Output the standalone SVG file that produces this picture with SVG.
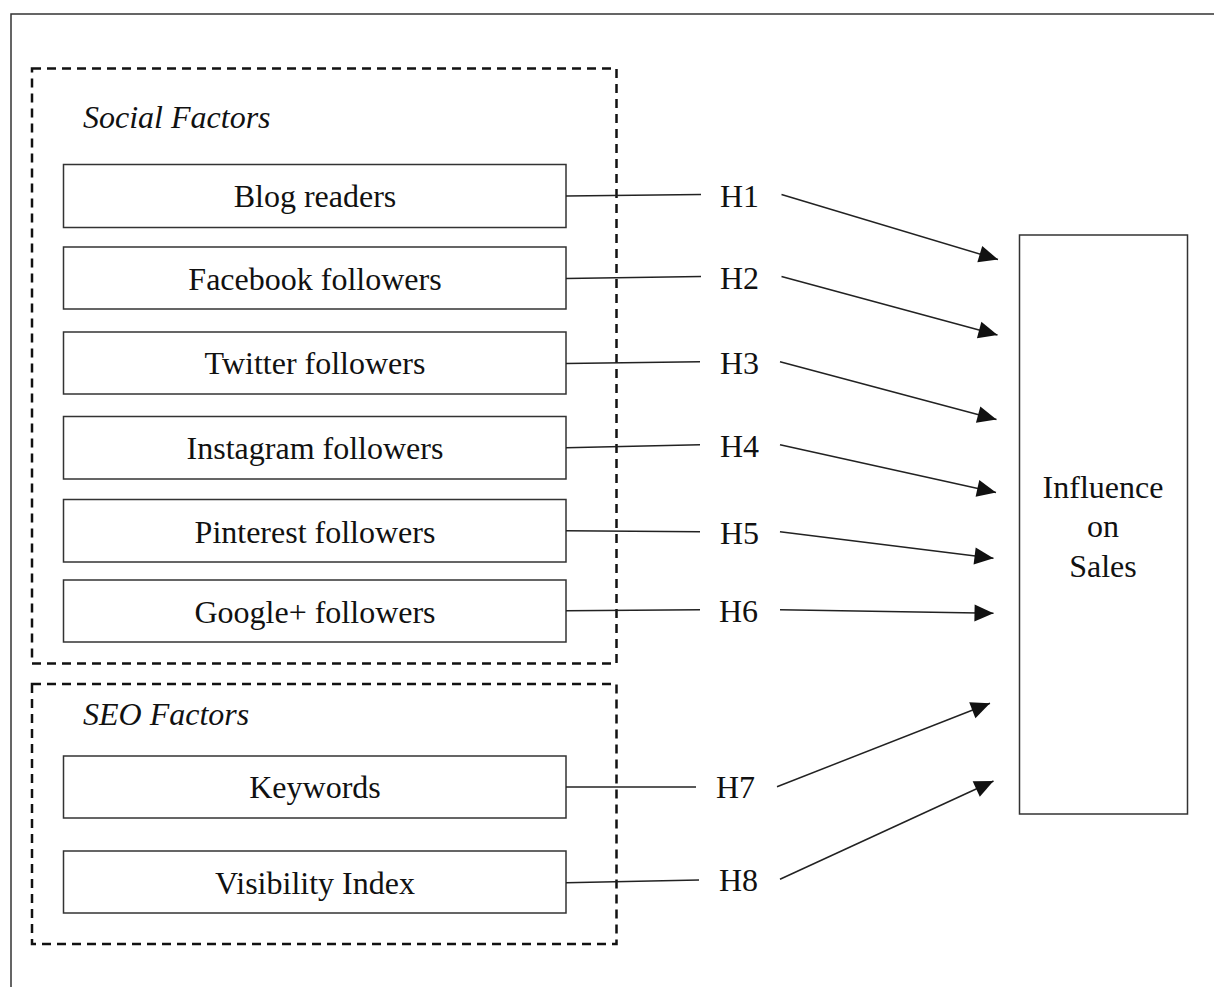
<svg xmlns="http://www.w3.org/2000/svg" width="1214" height="987" viewBox="0 0 1214 987">
<style>
.frame{fill:none;stroke:#333;stroke-width:1.5}
.group{fill:none;stroke:#111;stroke-width:2.5;stroke-dasharray:9 6}
.box{fill:#fff;stroke:#333;stroke-width:1.5}
.t{font-family:"Liberation Serif","Times New Roman",serif;font-size:32px;fill:#111}
.c{text-anchor:middle}
.i{font-style:italic}
.ln{fill:none;stroke:#222;stroke-width:1.5}
.ar{fill:none;stroke:#222;stroke-width:1.5;marker-end:url(#ah)}
</style>
<defs>
<marker id="ah" markerUnits="userSpaceOnUse" markerWidth="20" markerHeight="18" refX="19" refY="8.5" orient="auto" overflow="visible">
<path d="M0,0 L19,8.5 L0,17 z" fill="#111"/>
</marker>
</defs>
<rect width="1214" height="987" fill="#fff"/>
<g id="frame">
<path class="frame" d="M11,987 L11,14 L1214,14"/>
</g>
<g id="social-factors">
<rect class="group" x="32" y="68.5" width="584.5" height="595"/>
<text class="t i" x="83" y="128">Social Factors</text>
</g>
<g id="seo-factors">
<rect class="group" x="32" y="684" width="584.5" height="260"/>
<text class="t i" x="83" y="725">SEO Factors</text>
</g>
<g id="blog-readers"><rect class="box" x="63.5" y="164.5" width="502.5" height="63"/><text class="t c" x="315" y="207">Blog readers</text></g>
<g id="facebook-followers"><rect class="box" x="63.5" y="247" width="502.5" height="62"/><text class="t c" x="315" y="290">Facebook followers</text></g>
<g id="twitter-followers"><rect class="box" x="63.5" y="332" width="502.5" height="62"/><text class="t c" x="315" y="374">Twitter followers</text></g>
<g id="instagram-followers"><rect class="box" x="63.5" y="416.5" width="502.5" height="62.5"/><text class="t c" x="315" y="459">Instagram followers</text></g>
<g id="pinterest-followers"><rect class="box" x="63.5" y="499.5" width="502.5" height="62.5"/><text class="t c" x="315" y="543">Pinterest followers</text></g>
<g id="googleplus-followers"><rect class="box" x="63.5" y="580" width="502.5" height="62"/><text class="t c" x="315" y="623">Google+ followers</text></g>
<g id="keywords"><rect class="box" x="63.5" y="756" width="502.5" height="62"/><text class="t c" x="315" y="798">Keywords</text></g>
<g id="visibility-index"><rect class="box" x="63.5" y="851" width="502.5" height="62"/><text class="t c" x="315" y="894">Visibility Index</text></g>
<g id="influence-on-sales">
<rect class="box" x="1019.5" y="235" width="168" height="579"/>
<text class="t c" x="1103" y="498">Influence</text>
<text class="t c" x="1103" y="537">on</text>
<text class="t c" x="1103" y="577">Sales</text>
</g>
<g id="connectors">
<path class="ln" d="M566,196 L701,194.5"/>
<path class="ar" d="M781.5,194.5 L998,259.5"/>
<path class="ln" d="M566,278.5 L701,276.5"/>
<path class="ar" d="M781.5,276.5 L997.5,335"/>
<path class="ln" d="M566,363.5 L700,361.7"/>
<path class="ar" d="M780,361.7 L996.5,419.5"/>
<path class="ln" d="M566,447.7 L700,444.7"/>
<path class="ar" d="M780,444.7 L996,492.5"/>
<path class="ln" d="M566,530.7 L700,531.7"/>
<path class="ar" d="M780,531.7 L993.5,558.3"/>
<path class="ln" d="M566,610.7 L700,609.7"/>
<path class="ar" d="M780,609.7 L993.5,613.3"/>
<path class="ln" d="M566,787 L696,787"/>
<path class="ar" d="M777,786.7 L990,703.3"/>
<path class="ln" d="M566,882.7 L699,880"/>
<path class="ar" d="M780,879.3 L993.5,781"/>
</g>
<g id="labels">
<text class="t" x="720" y="207">H1</text>
<text class="t" x="720" y="288.5">H2</text>
<text class="t" x="720" y="373.5">H3</text>
<text class="t" x="720" y="457">H4</text>
<text class="t" x="720" y="543.5">H5</text>
<text class="t" x="719" y="622">H6</text>
<text class="t" x="716" y="798">H7</text>
<text class="t" x="719" y="891">H8</text>
</g>
</svg>
